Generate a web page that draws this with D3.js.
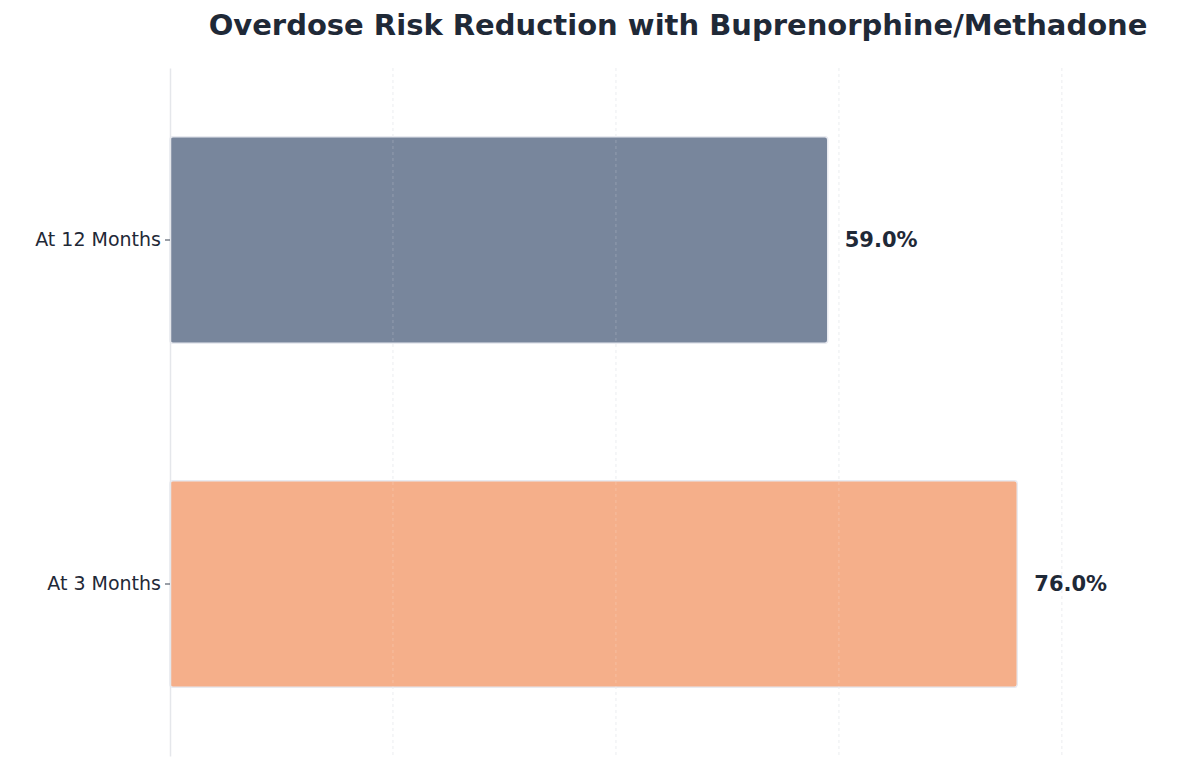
<!DOCTYPE html>
<html><head><meta charset="utf-8">
<script src="https://cdn.jsdelivr.net/npm/d3@7"></script>
<style>body{margin:0;background:#fff;font-family:"DejaVu Sans",sans-serif}</style>
</head><body><svg id="c" width="1200" height="768"></svg>
<script>
const categories = ["At 12 Months", "At 3 Months"];
const values = [59.0, 76.0];
const colors = ["#78869c", "#f5af8a"];
const gridTicks = [0, 20, 40, 60, 80];

const svg = d3.select("#c");
const m = {l:170, r:1170, t:68, b:756};
const x = d3.scaleLinear().domain([0, 89.7]).range([m.l, m.r]);
const y = d3.scaleBand().domain(categories).range([m.t, m.b]).paddingInner(0.4).paddingOuter(0.2);

svg.append("text").attr("x", 678).attr("y", 35).attr("text-anchor", "middle")
  .attr("font-size", 29).attr("font-weight", "bold").attr("fill", "#1f2937")
  .text("Overdose Risk Reduction with Buprenorphine/Methadone");

svg.append("g").selectAll("line").data(gridTicks.slice(1)).join("line")
  .attr("x1", d => x(d)).attr("x2", d => x(d)).attr("y1", m.t).attr("y2", m.b)
  .attr("stroke", "#e5e7eb").attr("stroke-width", 0.8).attr("stroke-dasharray", "3,3");

svg.append("g").selectAll("rect").data(categories).join("rect")
  .attr("x", x(0)).attr("y", d => y(d)).attr("width", (d, i) => x(values[i]) - x(0))
  .attr("height", y.bandwidth()).attr("rx", 3)
  .attr("fill", (d, i) => colors[i]).attr("stroke", "#e8eaf0").attr("stroke-width", 1.5);

svg.append("g").selectAll("line").data(gridTicks.slice(1)).join("line")
  .attr("x1", d => x(d)).attr("x2", d => x(d)).attr("y1", m.t).attr("y2", m.b)
  .attr("stroke", "#ffffff").attr("stroke-opacity", 0.25).attr("stroke-width", 0.8).attr("stroke-dasharray", "3,3");

svg.append("g").selectAll("text").data(categories).join("text")
  .attr("x", (d, i) => x(values[i]) + 17).attr("y", d => y(d) + y.bandwidth() / 2)
  .attr("dy", "0.35em").attr("font-size", 21).attr("font-weight", "bold").attr("fill", "#1f2937")
  .text((d, i) => values[i].toFixed(1) + "%");

const ax = svg.append("g").attr("transform", `translate(${m.l},0)`)
  .call(d3.axisLeft(y).tickSize(5).tickPadding(4).tickSizeOuter(0));
ax.select(".domain").attr("stroke", "#e5e7eb").attr("stroke-width", 1.5);
ax.selectAll(".tick line").attr("stroke", "#374151");
ax.selectAll(".tick text").attr("font-size", 19).attr("fill", "#1f2937").attr("font-family", "DejaVu Sans");
</script></body></html>
